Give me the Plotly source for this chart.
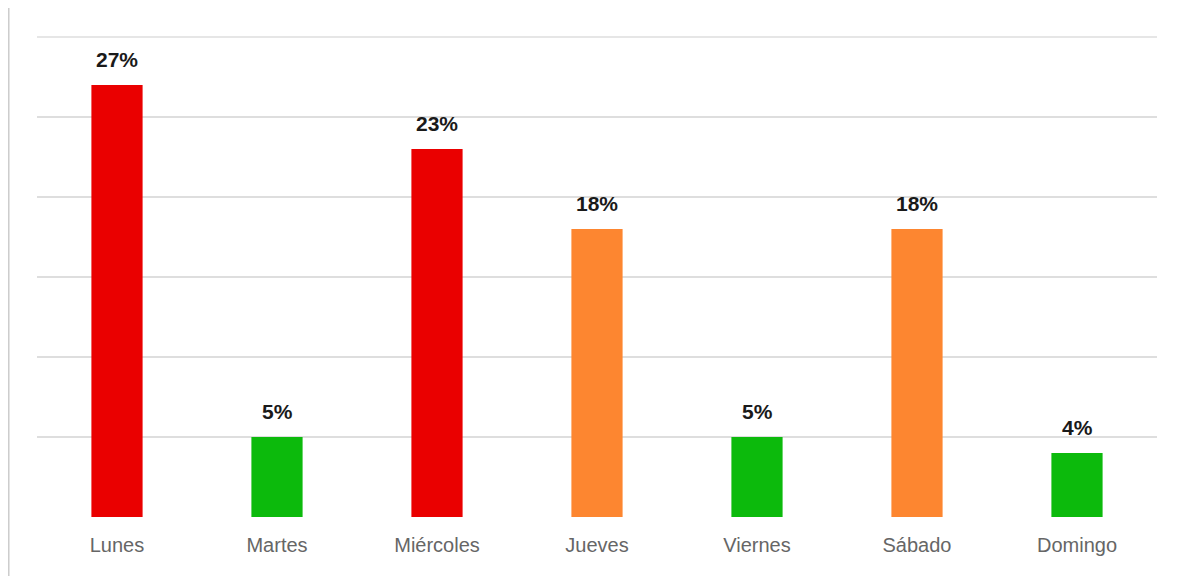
import plotly.graph_objects as go

days = ["Lunes", "Martes", "Miércoles", "Jueves", "Viernes", "Sábado", "Domingo"]
values = [27, 5, 23, 18, 5, 18, 4]
labels = ["27%", "5%", "23%", "18%", "5%", "18%", "4%"]
colors = ["#ea0000", "#0cba0c", "#ea0000", "#fd8630", "#0cba0c", "#fd8630", "#0cba0c"]
grid_vals = [5, 10, 15, 20, 25, 30]

fig = go.Figure()
fig.add_trace(go.Bar(x=days, y=values, marker=dict(color=colors, line=dict(width=0)),
                     hoverinfo="skip"))

for d, v, t in zip(days, values, labels):
    fig.add_annotation(x=d, y=v, text="<b>" + t + "</b>", showarrow=False,
                       yanchor="bottom", yshift=12,
                       font=dict(family="Liberation Sans, Arial, sans-serif",
                                 size=21, color="#1a1a1a"))

# top gridline (plotly omits the grid line sitting at the range edge)
fig.add_shape(type="line", xref="paper", yref="y", x0=0, x1=1,
              y0=grid_vals[-1], y1=grid_vals[-1], layer="below",
              line=dict(color="#dedede", width=1.5))

# thin vertical rule at the far left of the page
fig.add_shape(type="line", xref="paper", yref="paper",
              x0=-0.0252, x1=-0.0252, y0=-0.13, y1=1.06,
              line=dict(color="#cccccc", width=1.5))

fig.update_layout(
    width=1170, height=568,
    margin=dict(l=29, r=21, t=28, b=59),
    paper_bgcolor="white", plot_bgcolor="white",
    bargap=0.68, showlegend=False,
    xaxis=dict(showgrid=False, showline=False, zeroline=False, ticks="",
               ticklabelstandoff=14,
               tickfont=dict(family="Liberation Sans, Arial, sans-serif",
                             size=20, color="#666666")),
    yaxis=dict(range=[0, 30.06], tickvals=grid_vals, showticklabels=False,
               showgrid=True, gridcolor="#dedede", gridwidth=1.5,
               zeroline=False, showline=False),
)

fig.write_html("out.html")
